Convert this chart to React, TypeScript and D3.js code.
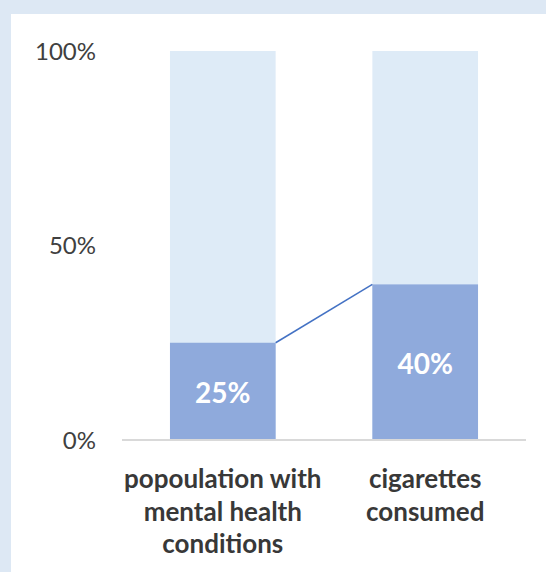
import React from "react";
import * as d3 from "d3";

const categories: string[][] = [
  ["popoulation with", "mental health", "conditions"],
  ["cigarettes", "consumed"],
];
const values = [0.25, 0.4];
const totals = [1, 1];
const tickValues = [0, 0.5, 1];
const tickLabels = ["0%", "50%", "100%"];

const W = 546;
const H = 572;

export default function App() {
  const x = d3.scaleBand<number>().domain([0, 1]).range([122, 526]).paddingInner(0.478).paddingOuter(0.237);
  const y = d3.scaleLinear().domain([0, 1]).range([440, 51]);
  const bw = x.bandwidth();
  const font = "Lato, 'Open Sans', sans-serif";
  return (
    <svg width={W} height={H} style={{ position: "fixed", left: 0, top: 0, display: "block" }}>
      <rect x={0} y={0} width={W} height={H} fill="#dde8f4" />
      <rect x={11} y={14} width={W - 11} height={H - 14} fill="#ffffff" />
      {values.map((v, i) => (
        <g key={i}>
          <rect x={x(i)!} y={y(totals[i])} width={bw} height={y(0) - y(totals[i])} fill="#deebf7" />
          <rect x={x(i)!} y={y(v)} width={bw} height={y(0) - y(v)} fill="#8faadc" />
          <text
            x={x(i)! + bw / 2}
            y={(y(v) + y(0)) / 2 + 2}
            dy="0.36em"
            textAnchor="middle"
            fill="#ffffff"
            fontFamily={font}
            fontWeight="bold"
            fontSize={28}
          >
            {d3.format(".0%")(v)}
          </text>
          {categories[i].map((line, j) => (
            <text
              key={j}
              x={x(i)! + bw / 2}
              y={479 + j * 32.5}
              dy="0.36em"
              textAnchor="middle"
              fill="#383838"
              fontFamily={font}
              fontWeight="bold"
              fontSize={26}
            >
              {line}
            </text>
          ))}
        </g>
      ))}
      <line
        x1={x(0)! + bw}
        y1={y(values[0])}
        x2={x(1)!}
        y2={y(values[1])}
        stroke="#4472c4"
        strokeWidth={1.5}
      />
      <line x1={122} x2={526} y1={y(0)} y2={y(0)} stroke="#d9d9d9" strokeWidth={2} />
      {tickValues.map((t, i) => (
        <text
          key={i}
          x={96}
          y={y(t)}
          dy="0.36em"
          textAnchor="end"
          fill="#404040"
          fontFamily={font}
          fontSize={24}
        >
          {tickLabels[i]}
        </text>
      ))}
    </svg>
  );
}
